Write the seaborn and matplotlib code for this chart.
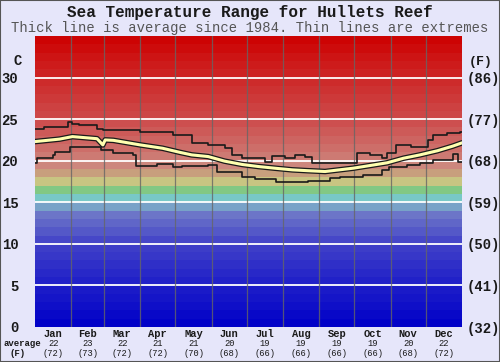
import numpy as np
import pandas as pd
import matplotlib
matplotlib.use("Agg")
import matplotlib.pyplot as plt
import seaborn as sns
from matplotlib.colors import LinearSegmentedColormap
from matplotlib.patches import Rectangle

# ---------------- data ----------------
months = ["Jan", "Feb", "Mar", "Apr", "May", "Jun", "Jul", "Aug", "Sep", "Oct", "Nov", "Dec"]
month_days = [31, 28, 31, 30, 31, 30, 31, 31, 30, 31, 30, 31]
avg_c = ["22", "23", "22", "21", "21", "20", "19", "19", "19", "19", "20", "22"]
avg_f = ["(72)", "(73)", "(72)", "(72)", "(70)", "(68)", "(66)", "(66)", "(66)", "(66)", "(68)", "(72)"]

c_ticks = [0, 5, 10, 15, 20, 25, 30]
f_labels = ["(32)", "(41)", "(50)", "(59)", "(68)", "(77)", "(86)"]

avg_day = [0, 21, 32, 53, 58, 60, 67, 90, 109, 124, 134, 148, 162, 177, 191, 205,
           220, 233, 248, 272, 301, 315, 329, 344, 357, 365]
avg_temp = [22.3, 22.6, 22.9, 22.65, 21.9, 22.5, 22.45, 21.9, 21.5, 21.0, 20.7, 20.5,
            19.95, 19.55, 19.3, 19.1, 18.9, 18.8, 18.7, 19.1, 19.75, 20.3, 20.7, 21.2,
            21.75, 22.15]

max_day = [0, 8, 28, 32, 38, 53, 58, 90, 118, 131, 134, 148, 162, 168, 177, 197, 203,
           214, 222, 231, 237, 261, 275, 286, 297, 301, 309, 321, 336, 340, 352, 363, 365]
max_temp = [23.8, 24.0, 24.7, 24.45, 24.25, 23.8, 23.7, 23.5, 23.05, 23.05, 22.1, 21.9,
            21.5, 20.7, 20.3, 19.9, 20.55, 20.3, 20.7, 20.5, 19.7, 19.7, 20.9, 20.7,
            20.3, 20.9, 21.9, 21.7, 22.5, 23.05, 23.3, 23.5, 23.5]

min_day = [0, 2, 15, 17, 30, 56, 67, 84, 86, 104, 118, 126, 148, 156, 177, 188, 206,
           233, 252, 261, 280, 297, 303, 318, 329, 340, 357, 362, 365]
min_temp = [19.7, 20.35, 20.7, 21.0, 21.6, 21.3, 20.9, 20.7, 19.4, 19.55, 19.3, 19.4,
            19.5, 18.7, 18.1, 17.8, 17.5, 17.6, 17.9, 18.1, 18.3, 18.9, 19.2, 19.5,
            19.75, 20.1, 20.8, 19.9, 19.9]

# ---------------- style ----------------
sns.set_theme(style="white")
plt.rcParams["font.family"] = ["Liberation Mono", "DejaVu Sans Mono"]
BG = "#e6e6fa"
DARK = "#1a1a1a"

fig = plt.figure(figsize=(5.0, 3.62), dpi=100, facecolor=BG)
ax = fig.add_axes([35 / 500, 1 - 327 / 362, 427 / 500, 291 / 362])

YMAX = 35
XMAX = sum(month_days)
ax.set_xlim(0, XMAX)
ax.set_ylim(0, YMAX)

# colour bands, one per degree
anchors = [
    (0.0, (0, 0, 200)), (5.0, (30, 30, 200)), (10.0, (65, 65, 200)),
    (14.0, (115, 125, 200)), (14.5, (120, 160, 200)), (15.5, (120, 200, 200)),
    (16.5, (130, 200, 130)), (17.5, (200, 200, 130)), (18.5, (200, 160, 125)),
    (19.5, (205, 135, 125)), (21.0, (205, 115, 110)), (25.0, (205, 75, 75)),
    (30.0, (205, 40, 40)), (35.0, (205, 0, 0)),
]
cmap = LinearSegmentedColormap.from_list(
    "sea", [(v / YMAX, tuple(c / 255 for c in col)) for v, col in anchors])
for lo in range(YMAX):
    ax.axhspan(lo, lo + 1, color=cmap((lo + 0.5) / YMAX), lw=0, zorder=0)

for t in c_ticks[1:]:
    ax.axhline(t, color="white", lw=1.3, zorder=1)

bounds = np.cumsum(month_days)[:-1]
for b in bounds:
    ax.axvline(b, color="#666666", lw=0.9, alpha=0.8, zorder=1)

df_avg = pd.DataFrame({"day": avg_day, "temp": avg_temp})
df_max = pd.DataFrame({"day": max_day, "temp": max_temp})
df_min = pd.DataFrame({"day": min_day, "temp": min_temp})

sns.lineplot(data=df_max, x="day", y="temp", ax=ax, color=DARK, lw=1.2,
             drawstyle="steps-post", zorder=3)
sns.lineplot(data=df_min, x="day", y="temp", ax=ax, color=DARK, lw=1.2,
             drawstyle="steps-post", zorder=3)
sns.lineplot(data=df_avg, x="day", y="temp", ax=ax, color=DARK, lw=4.0, zorder=4)
sns.lineplot(data=df_avg, x="day", y="temp", ax=ax, color="#ffffb0", lw=2.2, zorder=5)

ax.set_xlabel("")
ax.set_ylabel("")
ax.set_xticks([])
ax.set_yticks(c_ticks)
ax.set_yticklabels([str(t) for t in c_ticks], fontsize=10, fontweight="bold", color=DARK)
ax.tick_params(axis="y", length=0, pad=12)
for s in ax.spines.values():
    s.set_visible(False)

ax2 = ax.twinx()
ax2.set_ylim(0, YMAX)
ax2.set_yticks(c_ticks)
ax2.set_yticklabels(f_labels, fontsize=10, fontweight="bold", color=DARK)
ax2.tick_params(axis="y", length=0, pad=3)
for s in ax2.spines.values():
    s.set_visible(False)

# unit labels
fig.text(18 / 500, 1 - 61 / 362, "C", fontsize=10, fontweight="bold", color=DARK,
         ha="center", va="center")
fig.text(481 / 500, 1 - 62 / 362, "(F)", fontsize=9.5, fontweight="bold", color=DARK,
         ha="center", va="center")

# month labels and averages
starts = np.concatenate([[0], bounds])
centres = starts + np.array(month_days) / 2
for xm, m, c, f in zip(centres, months, avg_c, avg_f):
    xf = (35 + xm / XMAX * 427) / 500
    fig.text(xf, 1 - 334 / 362, m, fontsize=7.5, fontweight="bold", color=DARK,
             ha="center", va="center")
    fig.text(xf, 1 - 344 / 362, c, fontsize=6.3, color=DARK, ha="center", va="center")
    fig.text(xf, 1 - 353 / 362, f, fontsize=6.3, color=DARK, ha="center", va="center")
fig.text(22 / 500, 1 - 344 / 362, "average", fontsize=6.5, fontweight="bold", color=DARK,
         ha="center", va="center")
fig.text(18 / 500, 1 - 353 / 362, "(F)", fontsize=6.5, fontweight="bold", color=DARK,
         ha="center", va="center")

# titles
fig.text(0.5, 1 - 13 / 362, "Sea Temperature Range for Hullets Reef", fontsize=11.5,
         fontweight="bold", color=DARK, ha="center", va="center")
fig.text(0.5, 1 - 28 / 362, "Thick line is average since 1984. Thin lines are extremes",
         fontsize=10, color="#555555", ha="center", va="center")

fig.patches.append(Rectangle((0, 0), 1, 1, transform=fig.transFigure, fill=False,
                             edgecolor="#555555", lw=1.5))

fig.savefig("out.png", dpi=100, facecolor=BG)
